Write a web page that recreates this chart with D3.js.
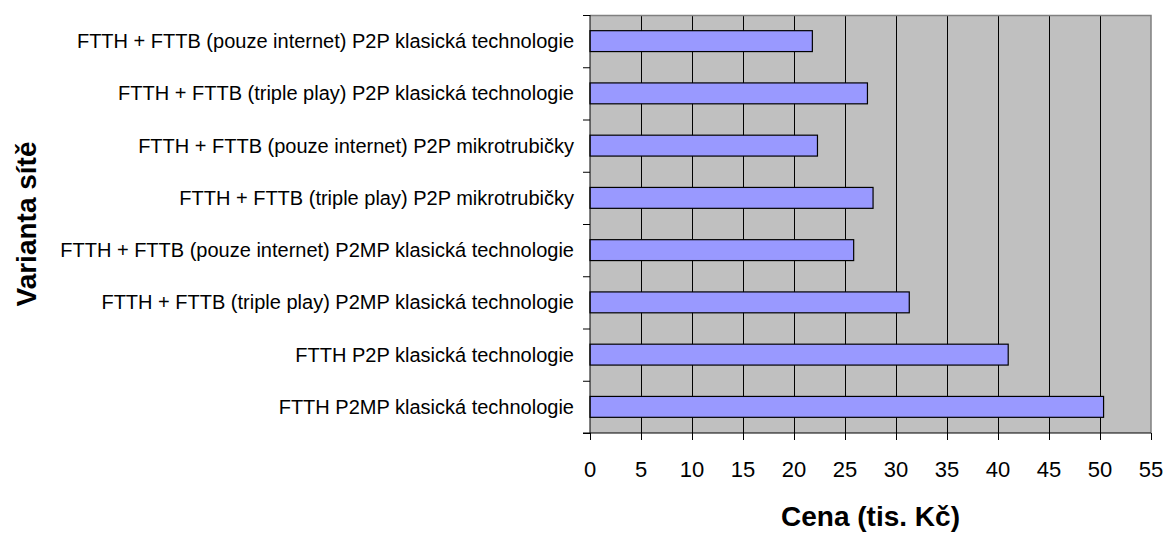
<!DOCTYPE html>
<html>
<head>
<meta charset="utf-8">
<script src="https://cdn.jsdelivr.net/npm/d3@7"></script>
<style>
  body { margin: 0; background: #fff; overflow: hidden; }
  svg { display: block; }
  text { font-family: Arial, "Liberation Sans", sans-serif; fill: #000; }
</style>
</head>
<body>
<div id="chart"></div>
<script>
// categories top -> bottom
const categories = [
  "FTTH + FTTB (pouze internet) P2P klasická technologie",
  "FTTH + FTTB (triple play) P2P klasická technologie",
  "FTTH + FTTB (pouze internet) P2P mikrotrubičky",
  "FTTH + FTTB (triple play) P2P mikrotrubičky",
  "FTTH + FTTB (pouze internet) P2MP klasická technologie",
  "FTTH + FTTB (triple play) P2MP klasická technologie",
  "FTTH P2P klasická technologie",
  "FTTH P2MP klasická technologie"
];
const prices = [21.8, 27.2, 22.3, 27.75, 25.85, 31.3, 41.0, 50.35];
const xTicks = [0, 5, 10, 15, 20, 25, 30, 35, 40, 45, 50, 55];
const xTitle = "Cena (tis. Kč)";
const yTitle = "Varianta sítě";

const width = 1167, height = 534;
const margins = { top: 15, right: 16, bottom: 101, left: 590 };
const innerWidth = width - margins.left - margins.right;
const innerHeight = height - margins.top - margins.bottom;

const data = categories.map((c, i) => ({ name: c, value: prices[i] }));

const svg = d3.select("#chart")
  .append("svg")
  .attr("width", width)
  .attr("height", height);

const mainG = svg.append("g")
  .attr("transform", `translate(${margins.left},${margins.top})`);

// Scales
const xScale = d3.scaleLinear()
  .domain([0, 55])
  .range([0, innerWidth]);

const yScale = d3.scaleBand()
  .domain(categories)
  .range([0, innerHeight])
  .padding(0);

// boundaries between categories, used for the tick marks
const yEdges = d3.scaleLinear()
  .domain([0, categories.length])
  .range([0, innerHeight]);

// Plot background
mainG.append("rect")
  .attr("x", 0).attr("y", 0)
  .attr("width", innerWidth).attr("height", innerHeight)
  .attr("fill", "#c0c0c0");

// Vertical gridlines
mainG.append("g").attr("class", "grid")
  .selectAll("line")
  .data(xTicks.filter((d) => d > 0 && d < 55))
  .join("line")
  .attr("x1", (d) => xScale(d)).attr("x2", (d) => xScale(d))
  .attr("y1", 0).attr("y2", innerHeight)
  .attr("stroke", "#000").attr("stroke-width", 1)
  .attr("shape-rendering", "crispEdges");

// Plot border (top + right, gray)
mainG.append("path")
  .attr("d", `M0,0.5H${innerWidth}V${innerHeight}`)
  .attr("fill", "none")
  .attr("stroke", "#808080")
  .attr("stroke-width", 1.5);

// Bars (gap width 150%)
const step = yScale.bandwidth();
mainG.append("g").attr("class", "bars")
  .selectAll("rect")
  .data(data)
  .join("rect")
  .attr("x", 0)
  .attr("y", (d) => yScale(d.name) + step * 0.3)
  .attr("width", (d) => xScale(d.value))
  .attr("height", step * 0.4)
  .attr("fill", "#9999ff")
  .attr("stroke", "#000")
  .attr("stroke-width", 1.2);

// Y axis: ticks at category boundaries
const yTickG = mainG.append("g")
  .call(d3.axisLeft(yEdges).tickValues(d3.range(categories.length + 1)).tickSize(7).tickFormat(""));
yTickG.selectAll("line").attr("stroke", "#000");
yTickG.selectAll("text").remove();
yTickG.select(".domain").attr("stroke", "#000").attr("d", `M0,0V${innerHeight}`);

// X axis ticks
const xAxisG = mainG.append("g")
  .attr("transform", `translate(0,${innerHeight})`)
  .call(d3.axisBottom(xScale).tickValues(xTicks).tickSize(7).tickFormat(""));
xAxisG.select(".domain").attr("stroke", "#000").attr("d", `M-7,0H${innerWidth}`);
xAxisG.selectAll("line").attr("stroke", "#000");
xAxisG.selectAll("text").remove();

// Category labels (positioned from the band scale)
svg.append("g").attr("class", "y-labels")
  .selectAll("text")
  .data(categories)
  .join("text")
  .attr("x", margins.left - 16)
  .attr("y", (d) => margins.top + yScale(d) + step / 2)
  .attr("dy", "0.35em")
  .attr("text-anchor", "end")
  .attr("font-size", "20px")
  .text((d) => d);

// X tick labels (positioned from the linear scale)
svg.append("g").attr("class", "x-labels")
  .selectAll("text")
  .data(xTicks)
  .join("text")
  .attr("x", (d) => margins.left + xScale(d))
  .attr("y", margins.top + innerHeight + 28)
  .attr("dy", "0.71em")
  .attr("text-anchor", "middle")
  .attr("font-size", "22px")
  .text((d) => d3.format("d")(d));

// Axis titles
svg.append("text")
  .attr("x", margins.left + innerWidth / 2)
  .attr("y", 526)
  .attr("text-anchor", "middle")
  .attr("font-size", "28px")
  .attr("font-weight", "bold")
  .text(xTitle);

svg.append("text")
  .attr("transform", `translate(36,${margins.top + innerHeight / 2}) rotate(-90)`)
  .attr("text-anchor", "middle")
  .attr("font-size", "28px")
  .attr("font-weight", "bold")
  .text(yTitle);
</script>
</body>
</html>
